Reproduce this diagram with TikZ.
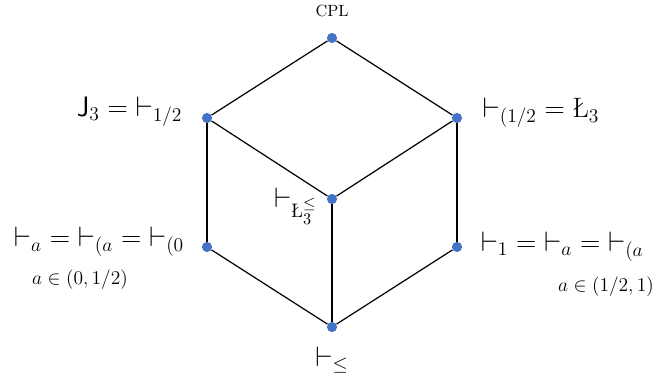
\documentclass[tikz,border=0pt]{standalone}
\usepackage{amsmath,amssymb}
\usepackage{tikz}
\usetikzlibrary{positioning}
\definecolor{dotblue}{RGB}{68,114,196}
\tikzset{
  dot/.style={circle, fill=dotblue, inner sep=0pt, minimum size=0.22cm},
  edge/.style={line width=0.75pt, black},
  biglbl/.style={inner sep=0pt, font=\LARGE},
  smalllbl/.style={inner sep=0pt, font=\large},
  toplbl/.style={inner sep=0pt, font=\normalsize},
}
\begin{document}
\begin{tikzpicture}[x=1.08cm, y=1.08cm]
\useasboundingbox (0,-7.56) rectangle (13.16,0);
\node[dot] (cpl) at (6.64,-0.76) {};
\node[dot] (j3) at (4.14,-2.36) {};
\node[dot] (luk) at (9.14,-2.36) {};
\node[dot] (mid) at (6.64,-3.98) {};
\node[dot] (lo) at (4.14,-4.94) {};
\node[dot] (hi) at (9.14,-4.94) {};
\node[dot] (bot) at (6.64,-6.54) {};
\foreach \a/\b in {cpl/j3, cpl/luk, j3/mid, luk/mid, mid/bot, j3/lo, luk/hi, lo/bot, hi/bot}
  \draw[edge] (\a) -- (\b);
\node[toplbl, above=0.34cm of cpl, anchor=base] (cpllbl) {CPL};
\node[biglbl, left=0.41cm of j3, anchor=base east, yshift=0.04cm] (j3lbl) {$\mathsf{J}_3={\vdash}_{1/2}$};
\node[biglbl, right=0.43cm of luk, anchor=base west] (luklbl) {${\vdash}_{(1/2}=\text{\L}_3$};
\node[biglbl, left=0.19cm of mid, anchor=base east, yshift=-0.19cm] (midlbl) {${\vdash}_{\text{\L}_3^{\leq}}$};
\node[biglbl, left=0.37cm of lo, anchor=base east] (lolbl) {${\vdash}_a={\vdash}_{(a}={\vdash}_{(0}$};
\node[biglbl, right=0.39cm of hi, anchor=base west, yshift=-0.09cm] (hilbl) {${\vdash}_1={\vdash}_a={\vdash}_{(a}$};
\node[biglbl, below=0.73cm of bot, anchor=base] (botlbl) {${\vdash}_{\leq}$};
\node[smalllbl, anchor=base] (lorange) at (1.60,-5.68) {$a\in(0,1/2)$};
\node[smalllbl, anchor=base] (hirange) at (12.12,-5.82) {$a\in(1/2,1)$};
\end{tikzpicture}
\end{document}
